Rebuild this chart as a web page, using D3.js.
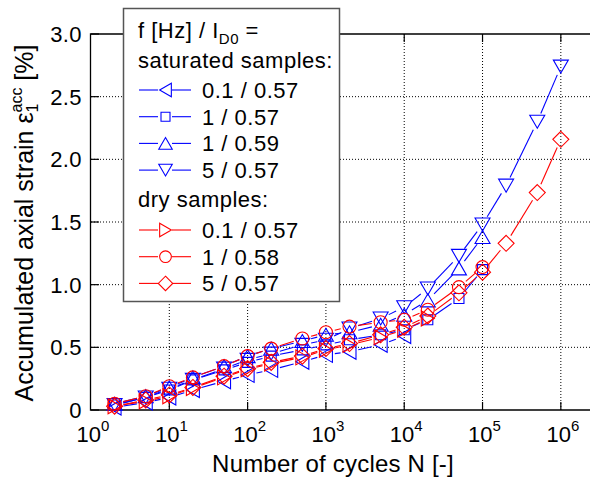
<!DOCTYPE html>
<html>
<head>
<meta charset="utf-8">
<script src="https://cdn.jsdelivr.net/npm/d3@7"></script>
<style>
  body { margin: 0; background: white; }
  svg text { font-family: "Liberation Sans", Arial, Helvetica, sans-serif; fill: black; }
</style>
</head>
<body>
<div id="chart"></div>
<script>
// number of cycles at which strain was read
const cycles = [2, 5, 10, 20, 50, 100, 200, 500, 1000, 2000, 5000, 1e4, 2e4, 5e4, 1e5, 2e5, 5e5, 1e6];

// accumulated axial strain [%], one value per entry of cycles (series stop early)
const satLeft    = [0.02, 0.06, 0.10, 0.16, 0.23, 0.28, 0.32, 0.385, 0.44, 0.465, 0.52, 0.59];
const satSquare  = [0.04, 0.10, 0.16, 0.24, 0.32, 0.38, 0.43, 0.48, 0.52, 0.56, 0.60, 0.64, 0.72, 0.89, 1.12];
const satUp      = [0.05, 0.11, 0.18, 0.26, 0.35, 0.43, 0.49, 0.55, 0.60, 0.62, 0.68, 0.76, 0.875, 1.13, 1.38];
const satDown    = [0.04, 0.10, 0.17, 0.24, 0.33, 0.40, 0.45, 0.52, 0.56, 0.65, 0.73, 0.82, 0.97, 1.23, 1.48, 1.79, 2.30, 2.74];
const dryRight   = [0.03, 0.07, 0.11, 0.175, 0.26, 0.325, 0.37, 0.42, 0.48, 0.52, 0.58, 0.64, 0.73];
const dryCircle  = [0.05, 0.11, 0.19, 0.26, 0.35, 0.43, 0.49, 0.57, 0.62, 0.665, 0.70, 0.72, 0.80, 0.98, 1.14];
const dryDiamond = [0.03, 0.08, 0.12, 0.18, 0.27, 0.33, 0.38, 0.43, 0.49, 0.53, 0.60, 0.66, 0.75, 0.935, 1.10, 1.33, 1.735, 2.16];

const seriesLabels = ["0.1 / 0.57", "1 / 0.57", "1 / 0.59", "5 / 0.57", "0.1 / 0.57", "1 / 0.58", "5 / 0.57"];
const yTicks = [0, 0.5, 1.0, 1.5, 2.0, 2.5, 3.0];
const yTickLabels = ["0", "0.5", "1.0", "1.5", "2.0", "2.5", "3.0"];
const xTicks = [1, 10, 100, 1e3, 1e4, 1e5, 1e6];
const xTickExp = ["0", "1", "2", "3", "4", "5", "6"];

const series = [
    { values: satLeft,    label: seriesLabels[0], color: "#0000ff", shape: "left" },
    { values: satSquare,  label: seriesLabels[1], color: "#0000ff", shape: "square" },
    { values: satUp,      label: seriesLabels[2], color: "#0000ff", shape: "up" },
    { values: satDown,    label: seriesLabels[3], color: "#0000ff", shape: "down" },
    { values: dryRight,   label: seriesLabels[4], color: "#ff0000", shape: "right" },
    { values: dryCircle,  label: seriesLabels[5], color: "#ff0000", shape: "circle" },
    { values: dryDiamond, label: seriesLabels[6], color: "#ff0000", shape: "diamond" }
];

const width = 590, height = 483;
const mLeft = 91, mTop = 34, mBottom = 410, mRight = 592;

const svg = d3.select("#chart")
    .append("svg")
    .attr("width", width)
    .attr("height", height);

const x = d3.scaleLog().domain([1, 2.5e6]).range([mLeft, mRight]);
const y = d3.scaleLinear().domain([0, 3]).range([mBottom, mTop]);

// marker outlines, centred on 0,0
function markerPath(shape, s) {
    const w = 15 * s, h = 13 * s;
    switch (shape) {
        case "up":    return `M0,${-h/2}L${w/2},${h/2}L${-w/2},${h/2}Z`;
        case "down":  return `M0,${h/2}L${w/2},${-h/2}L${-w/2},${-h/2}Z`;
        case "left":  return `M${-h/2},0L${h/2},${-w/2}L${h/2},${w/2}Z`;
        case "right": return `M${h/2},0L${-h/2},${-w/2}L${-h/2},${w/2}Z`;
        case "square": { const a = 5 * s; return `M${-a},${-a}H${a}V${a}H${-a}Z`; }
        case "diamond": { const a = 8 * s; return `M0,${-a}L${a},0L0,${a}L${-a},0Z`; }
        case "circle": { const r = 6.5 * s; return `M${r},0A${r},${r} 0 1,1 ${-r},0A${r},${r} 0 1,1 ${r},0Z`; }
    }
}

// grid (dotted)
const grid = svg.append("g");
grid.selectAll(".gx")
    .data(xTicks.slice(1))
    .join("line")
    .attr("x1", d => x(d)).attr("x2", d => x(d))
    .attr("y1", mTop).attr("y2", mBottom)
    .attr("stroke", "#000").attr("stroke-width", 1)
    .attr("stroke-dasharray", "1,2");
grid.selectAll(".gy")
    .data(yTicks.slice(1, -1))
    .join("line")
    .attr("x1", mLeft).attr("x2", mRight + 10)
    .attr("y1", d => y(d)).attr("y2", d => y(d))
    .attr("stroke", "#000").attr("stroke-width", 1)
    .attr("stroke-dasharray", "1,2");

// inward ticks
const ticks = svg.append("g").attr("stroke", "#000").attr("stroke-width", 1.2);
xTicks.slice(1).forEach(t => {
    ticks.append("line").attr("x1", x(t)).attr("x2", x(t)).attr("y1", mBottom).attr("y2", mBottom - 8);
    ticks.append("line").attr("x1", x(t)).attr("x2", x(t)).attr("y1", mTop).attr("y2", mTop + 8);
});
yTicks.forEach(t => {
    ticks.append("line").attr("x1", mLeft).attr("x2", mLeft + 8).attr("y1", y(t)).attr("y2", y(t));
});

// axes box
svg.append("path")
    .attr("d", `M${mRight + 10},${mTop}H${mLeft - 0.5}V${mBottom}H${mRight + 10}`)
    .attr("fill", "none")
    .attr("stroke", "#000")
    .attr("stroke-width", 1.3);

// tick labels
svg.append("g").selectAll("text")
    .data(yTicks)
    .join("text")
    .attr("x", 82)
    .attr("y", d => y(d))
    .attr("dy", "0.36em")
    .attr("text-anchor", "end")
    .attr("font-size", 22)
    .attr("letter-spacing", 0.4)
    .text((d, i) => yTickLabels[i]);

const xl = svg.append("g").selectAll("text")
    .data(xTicks)
    .join("text")
    .attr("x", d => x(d) + 2)
    .attr("y", 442)
    .attr("text-anchor", "middle")
    .attr("font-size", 22);
xl.append("tspan").text("10");
xl.append("tspan").attr("font-size", 15).attr("dy", -11).text((d, i) => xTickExp[i]);

// axis titles
svg.append("text")
    .attr("x", 333)
    .attr("y", 472)
    .attr("text-anchor", "middle")
    .attr("font-size", 24)
    .attr("letter-spacing", 0.2)
    .text("Number of cycles N [-]");

const yt = svg.append("text")
    .attr("transform", "translate(33,223) rotate(-90)")
    .attr("text-anchor", "middle")
    .attr("font-size", 25);
yt.append("tspan").text("Accumulated axial strain ε");
yt.append("tspan").attr("font-size", 16).attr("dy", 5).text("1");
yt.append("tspan").attr("font-size", 16).attr("dx", -9).attr("dy", -16).text("acc");
yt.append("tspan").attr("dy", 11).text(" [%]");

// data: line segments leave a gap round each marker
const gap = 9;
const plot = svg.append("g");
series.forEach(s => {
    const pts = s.values.map((v, i) => [x(cycles[i]), y(v)]);
    const segs = [];
    for (let i = 0; i < pts.length - 1; i++) {
        const [x1, y1] = pts[i], [x2, y2] = pts[i + 1];
        const dist = Math.hypot(x2 - x1, y2 - y1);
        if (dist <= 2 * gap) continue;
        const ux = (x2 - x1) / dist, uy = (y2 - y1) / dist;
        segs.push([x1 + ux * gap, y1 + uy * gap, x2 - ux * gap, y2 - uy * gap]);
    }
    plot.append("g").selectAll("line")
        .data(segs)
        .join("line")
        .attr("x1", d => d[0]).attr("y1", d => d[1])
        .attr("x2", d => d[2]).attr("y2", d => d[3])
        .attr("stroke", s.color)
        .attr("stroke-width", 1.1);
    plot.append("g").selectAll("path")
        .data(pts)
        .join("path")
        .attr("transform", d => `translate(${d[0]},${d[1]})`)
        .attr("d", markerPath(s.shape, 1))
        .attr("fill", "none")
        .attr("stroke", s.color)
        .attr("stroke-width", 1.1);
});

// legend
const lg = svg.append("g").attr("letter-spacing", 0.5);
lg.append("rect")
    .attr("x", 123.5).attr("y", 8.5)
    .attr("width", 216).attr("height", 293)
    .attr("fill", "white")
    .attr("stroke", "#555")
    .attr("stroke-width", 1.5);

const head = lg.append("text").attr("x", 138).attr("y", 38).attr("font-size", 22);
head.append("tspan").text("f [Hz] / I");
head.append("tspan").attr("font-size", 15).attr("dy", 6).text("D0");
head.append("tspan").attr("dy", -6).text(" =");
lg.append("text").attr("x", 138).attr("y", 68).attr("font-size", 22).text("saturated samples:");
lg.append("text").attr("x", 138).attr("y", 207).attr("font-size", 22).text("dry samples:");

const rowY = (i) => i < 4 ? 90 + i * 26.7 : 230 + (i - 4) * 26.7;
const rows = lg.selectAll(".row")
    .data(series)
    .join("g")
    .attr("transform", (d, i) => `translate(0,${rowY(i)})`);
rows.append("line")
    .attr("x1", 139).attr("x2", 158)
    .attr("stroke", d => d.color).attr("stroke-width", 1.1);
rows.append("line")
    .attr("x1", 172).attr("x2", 191)
    .attr("stroke", d => d.color).attr("stroke-width", 1.1);
rows.append("path")
    .attr("transform", "translate(165.5,0)")
    .attr("d", d => markerPath(d.shape, 0.9))
    .attr("fill", "white")
    .attr("stroke", d => d.color)
    .attr("stroke-width", 1.1);
rows.append("text")
    .attr("x", 202)
    .attr("y", 7.8)
    .attr("font-size", 22)
    .text(d => d.label);
</script>
</body>
</html>
